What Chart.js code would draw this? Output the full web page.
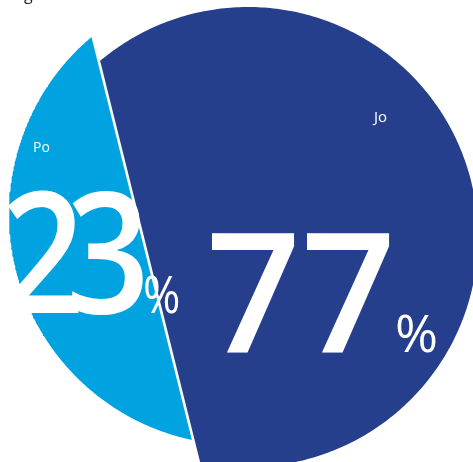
<!DOCTYPE html>
<html><head><meta charset="utf-8">
<script src="https://cdn.jsdelivr.net/npm/chart.js@4/dist/chart.umd.min.js"></script>
<style>
html,body{margin:0;padding:0;background:#fff;overflow:hidden;}
#wrap{position:relative;width:473px;height:462px;overflow:hidden;}
#cut{position:absolute;left:24px;top:-17px;font:16px "Open Sans";color:#222;}
</style></head><body>
<div id="wrap"><canvas id="c"></canvas><div id="cut">g</div></div>
<script>
// ---- data ----
const categories = ['Po', 'Jo'];
const values = [23, 77];
const sliceColors = ['#00A3E0', '#263F8C'];

// ---- layout (pixel geometry of each segment, not data) ----
const GEO = {
  Po: { cx: 240, cy: 214, r: 231, dir: 166 },
  Jo: { cx: 248, cy: 237, r: 230, dir: -14 }
};
const LABELS = {
  Po: { nameX: 33, nameY: 152, nameSize: 14, numX: 1, numY: 313, numSize: 168, sx: 0.87, track: -21, pctX: 143, pctSize: 52 },
  Jo: { nameX: 374, nameY: 121.5, nameSize: 15, numX: 206, numY: 352, numSize: 166, sx: 1, track: 0, pctX: 395, pctSize: 52 }
};

const total = values.reduce((a, b) => a + b, 0);

// central angle of a circular segment holding a given share of the disc
function segmentAngle(frac) {
  let lo = 0, hi = 2 * Math.PI;
  for (let k = 0; k < 80; k++) {
    const m = (lo + hi) / 2;
    if ((m - Math.sin(m)) / (2 * Math.PI) < frac) lo = m; else hi = m;
  }
  return (lo + hi) / 2;
}
function segmentPoints(frac, g) {
  const half = segmentAngle(frac) / 2, dir = g.dir * Math.PI / 180, pts = [];
  const n = 300;
  for (let k = 0; k <= n; k++) {
    const a = dir - half + 2 * half * k / n;
    pts.push({ x: g.cx + g.r * Math.cos(a), y: g.cy + g.r * Math.sin(a) });
  }
  pts.push({ x: pts[0].x, y: pts[0].y });
  return pts;
}

const datasets = categories.map((c, i) => ({
  label: c,
  data: segmentPoints(values[i] / total, GEO[c]),
  showLine: true,
  fill: 'shape',
  backgroundColor: sliceColors[i],
  borderColor: sliceColors[i],
  borderWidth: 0,
  pointRadius: 0,
  tension: 0
}));

const labelPlugin = {
  id: 'segmentLabels',
  afterDatasetsDraw(chart) {
    const ctx = chart.ctx;
    const xs = chart.scales.x, ys = chart.scales.y;
    ctx.save();
    ctx.fillStyle = '#ffffff';
    ctx.textBaseline = 'alphabetic';
    ctx.textAlign = 'left';
    categories.forEach((c, i) => {
      const L = LABELS[c];
      // category name
      ctx.font = L.nameSize + 'px "Open Sans"';
      ctx.fillText(c, xs.getPixelForValue(L.nameX), ys.getPixelForValue(L.nameY));
      // big value
      ctx.save();
      ctx.translate(xs.getPixelForValue(L.numX), ys.getPixelForValue(L.numY));
      ctx.scale(L.sx, 1);
      ctx.font = '600 ' + L.numSize + 'px "Open Sans"';
      if ('letterSpacing' in ctx) ctx.letterSpacing = L.track + 'px';
      ctx.fillText(String(values[i]), 0, 0);
      ctx.restore();
      // percent sign
      ctx.save();
      ctx.translate(xs.getPixelForValue(L.pctX), ys.getPixelForValue(L.numY));
      ctx.scale(L.sx, 1);
      ctx.font = L.pctSize + 'px "Open Sans"';
      ctx.fillText('%', 0, 0);
      ctx.restore();
    });
    ctx.restore();
  }
};

new Chart(document.getElementById('c'), {
  type: 'scatter',
  data: { datasets },
  options: {
    responsive: true,
    maintainAspectRatio: false,
    animation: false,
    events: [],
    layout: { padding: 0 },
    plugins: { legend: { display: false }, tooltip: { enabled: false }, title: { display: false } },
    scales: {
      x: { type: 'linear', min: 0, max: 473, display: false },
      y: { type: 'linear', min: 0, max: 462, reverse: true, display: false }
    }
  },
  plugins: [labelPlugin]
});
</script>
</body></html>
